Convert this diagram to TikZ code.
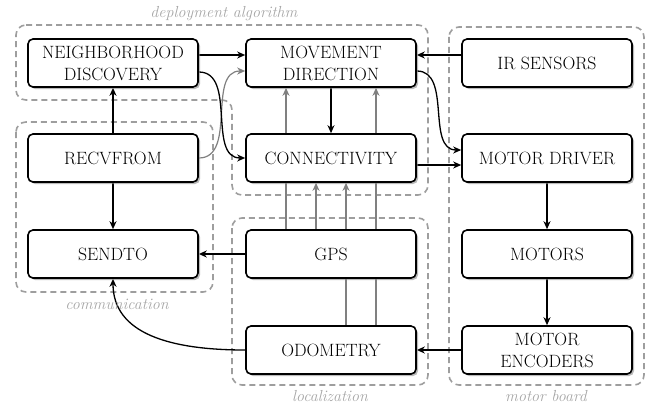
\documentclass[tikz,border=0pt]{standalone}
\usetikzlibrary{arrows.meta,shadows,backgrounds}
\begin{document}
\begin{tikzpicture}[x=1pt,y=1pt,
  box/.style={draw=black, line width=1.6pt, rounded corners=5pt, fill=white,
    minimum width=170pt, minimum height=48pt, align=center, inner sep=2pt,
    font=\rmfamily\fontsize{17.8}{22}\selectfont,
    drop shadow={shadow xshift=2pt, shadow yshift=-2pt, fill=black!45, opacity=0.6}},
  grp/.style={draw=black!38, line width=1.6pt, dash pattern=on 6pt off 4pt, rounded corners=10pt},
  grplabel/.style={text=black!35, font=\rmfamily\fontsize{16}{18}\selectfont\itshape, inner sep=0pt},
  arr/.style={draw=black, line width=1.3pt, -{Stealth[length=8pt,width=7pt,inset=2.5pt]}},
  garr/.style={draw=black!50, line width=1.2pt, -{Stealth[length=8pt,width=7pt,inset=2.5pt]}}
]
\useasboundingbox (0,0) rectangle (647,-404);

% boxes
\node[box] (nd) at (113,-63) {NEIGHBORHOOD\\DISCOVERY};
\node[box] (mv) at (331,-63) {MOVEMENT\\DIRECTION};
\node[box] (ir) at (547,-63) {IR SENSORS};
\node[box] (rf) at (113,-158) {RECVFROM};
\node[box] (cn) at (331,-158) {CONNECTIVITY};
\node[box] (md) at (547,-158) {MOTOR DRIVER};
\node[box] (st) at (113,-254) {SENDTO};
\node[box] (gps) at (331,-254) {GPS};
\node[box] (mo) at (547,-254) {MOTORS};
\node[box] (od) at (331,-350) {ODOMETRY};
\node[box] (me) at (547,-350) {MOTOR\\ENCODERS};

% group labels
\node[grplabel] (lda) at (224,-14) {deployment algorithm};
\node[grplabel] (lcm) at (117,-304) {communication};
\node[grplabel] (llc) at (330,-396) {localization};
\node[grplabel] (lmb) at (546,-396) {motor board};

\begin{pgfonlayer}{background}
% groups
\draw[grp] (16,-25) -- (428,-25) -- (428,-195) -- (232,-195) -- (232,-100) -- (16,-100) -- cycle;
\draw[grp] (16,-122) rectangle (213,-292);
\draw[grp] (232,-218) rectangle (428,-385);
\draw[grp] (449,-27) rectangle (644,-385);

% grey connectors
\draw[garr] (rf.east) to[out=0,in=180] ([yshift=-8pt]mv.west);
\draw[garr] ([xshift=-45pt]gps.north) -- ([xshift=-45pt]mv.south);
\draw[garr] ([xshift=-15pt]gps.north) -- ([xshift=-15pt]cn.south);
\draw[garr] ([xshift=15pt]od.north) -- ([xshift=15pt]cn.south);
\draw[garr] ([xshift=45pt]od.north) -- ([xshift=45pt]mv.south);

% black connectors
\draw[arr] ([yshift=8pt]nd.east) -- ([yshift=8pt]mv.west);
\draw[arr] ([yshift=-9pt]nd.east) to[out=0,in=180] (cn.west);
\draw[arr] ([yshift=8pt]ir.west) -- ([yshift=8pt]mv.east);
\draw[arr] ([yshift=-8pt]mv.east) to[out=0,in=180] ([yshift=8pt]md.west);
\draw[arr] ([yshift=-7pt]cn.east) -- ([yshift=-7pt]md.west);
\draw[arr] (mv.south) -- (cn.north);
\draw[arr] (rf.north) -- (nd.south);
\draw[arr] (rf.south) -- (st.north);
\draw[arr] (gps.west) -- (st.east);
\draw[arr] (od.west) .. controls +(-75,0) and +(0,-55) .. (st.south);
\draw[arr] (md.south) -- (mo.north);
\draw[arr] (mo.south) -- (me.north);
\draw[arr] (me.west) -- (od.east);
\end{pgfonlayer}
\end{tikzpicture}
\end{document}
